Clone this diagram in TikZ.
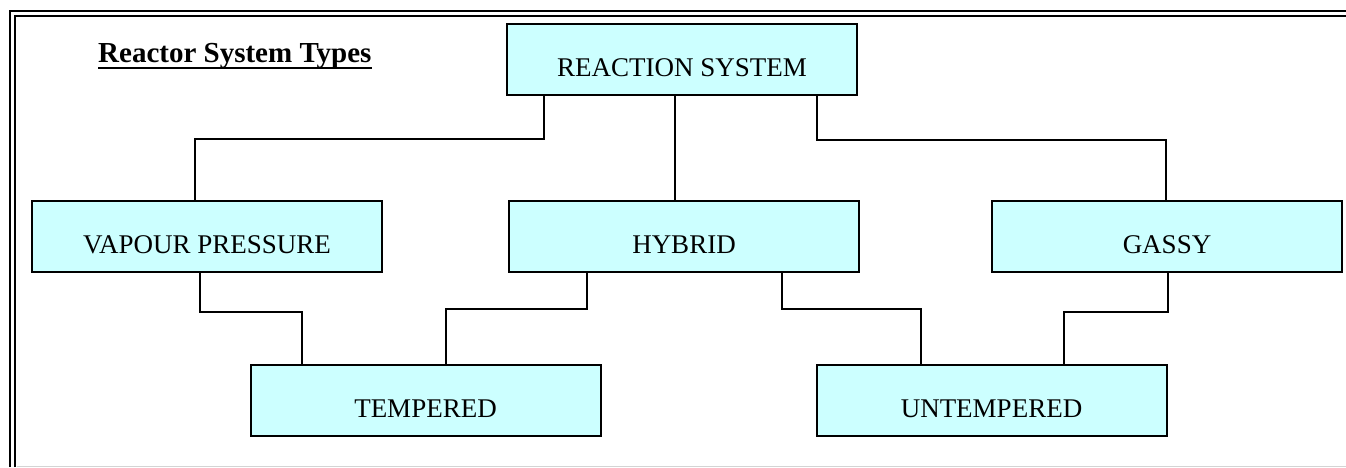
\documentclass[tikz,border=0pt]{standalone}
\usepackage{fontspec}
\setmainfont{Liberation Serif}
\definecolor{boxfill}{HTML}{CCFFFF}
\definecolor{faint}{HTML}{D4D4D4}
\tikzset{
  sysbox/.style={draw=black, line width=2pt, fill=boxfill, inner sep=0pt,
    minimum width=350pt, minimum height=71pt, text height=33.9pt, text depth=0pt,
    font=\fontsize{27}{30}\selectfont},
  link/.style={draw=black, line width=2pt},
}
\begin{document}
\begin{tikzpicture}[x=1pt,y=-1pt]
\useasboundingbox (0,0) rectangle (1346,467);
\fill[white] (0,0) rectangle (1346,467);
% frame
\draw[line width=2.6pt] (10,467) -- (10,11) -- (1346,11);
\draw[line width=2pt] (15,467) -- (15,15.5) -- (1346,15.5);
\draw[faint, line width=1pt] (17,466) -- (1346,466);
% title
\node[anchor=base west, inner sep=0pt, font=\fontsize{29}{32}\selectfont\bfseries] (title) at (98,62) {Reactor System Types};
\draw[line width=2pt] ([yshift=-6pt]title.base west) -- ([yshift=-6pt]title.base east);
% boxes
\node[sysbox] (rs) at (682,59.5) {REACTION SYSTEM};
\node[sysbox] (vp) at (207,236.5) {VAPOUR PRESSURE};
\node[sysbox] (hy) at (684,236.5) {HYBRID};
\node[sysbox] (ga) at (1167,236.5) {GASSY};
\node[sysbox] (te) at (425.5,400.5) {TEMPERED};
\node[sysbox] (un) at (991.5,400.5) {UNTEMPERED};
% bend points
\coordinate (a1) at (544,139);
\coordinate (a2) at (195,139);
\coordinate (c1) at (816.5,139.5);
\coordinate (c2) at (1166,139.5);
\coordinate (b1) at (674.5,150);
\coordinate (d1) at (200,312);
\coordinate (d2) at (302,312);
\coordinate (e1) at (587,309);
\coordinate (e2) at (446,309);
\coordinate (f1) at (782,309);
\coordinate (f2) at (921,309);
\coordinate (g1) at (1168,312);
\coordinate (g2) at (1064,312);
% connectors
\draw[link] (a1 |- rs.south) -- (a1) -- (a2) -- (a2 |- vp.north);
\draw[link] (b1 |- rs.south) -- (b1 |- hy.north);
\draw[link] (c1 |- rs.south) -- (c1) -- (c2) -- (c2 |- ga.north);
\draw[link] (d1 |- vp.south) -- (d1) -- (d2) -- (d2 |- te.north);
\draw[link] (e1 |- hy.south) -- (e1) -- (e2) -- (e2 |- te.north);
\draw[link] (f1 |- hy.south) -- (f1) -- (f2) -- (f2 |- un.north);
\draw[link] (g1 |- ga.south) -- (g1) -- (g2) -- (g2 |- un.north);
\end{tikzpicture}
\end{document}
